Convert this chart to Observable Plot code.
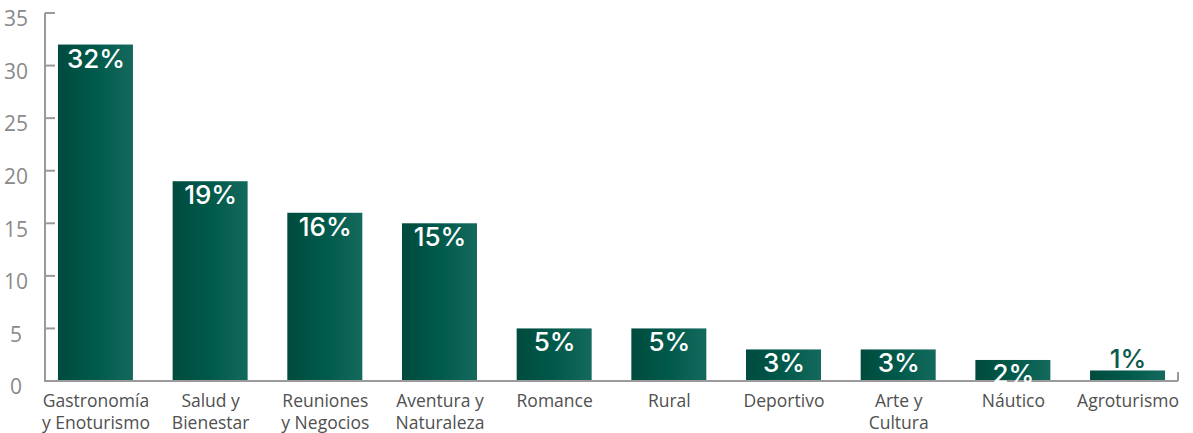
<!DOCTYPE html>
<html>
<head>
<meta charset="utf-8">
<script src="https://cdn.jsdelivr.net/npm/d3@7"></script>
<script src="https://cdn.jsdelivr.net/npm/@observablehq/plot@0.6"></script>
<style>
  html, body { margin: 0; padding: 0; background: #fff; }
  #chart svg { display: block; }
</style>
</head>
<body>
<div id="chart"></div>
<script>
const categories = [
  "Gastronomía\ny Enoturismo",
  "Salud y\nBienestar",
  "Reuniones\ny Negocios",
  "Aventura y\nNaturaleza",
  "Romance",
  "Rural",
  "Deportivo",
  "Arte y\nCultura",
  "Náutico",
  "Agroturismo"
];
const values = [32, 19, 16, 15, 5, 5, 3, 3, 2, 1];
const yTicks = [0, 5, 10, 15, 20, 25, 30, 35];

const data = categories.map((c, i) => ({category: c, value: values[i]}));

const axisColor = "#9a9a9a";
const font = "Open Sans, Lato, sans-serif";
const labelFont = "Inter, Open Sans, sans-serif";

function axisLines(index, scales, vals, dims) {
  const g = d3.create("svg:g").attr("stroke", axisColor).attr("stroke-width", 2).attr("fill", "none");
  const x0 = dims.marginLeft;
  const x1 = dims.width - dims.marginRight;
  const yb = scales.y(0);
  const yt = scales.y(35);
  g.append("line").attr("x1", x0).attr("x2", x0).attr("y1", yt).attr("y2", yb);
  g.append("line").attr("x1", x0 - 1).attr("x2", x1).attr("y1", yb).attr("y2", yb);
  g.append("line").attr("x1", x1).attr("x2", x1).attr("y1", yb).attr("y2", yb - 9);
  for (const t of yTicks) {
    if (t === 0) continue;
    g.append("line").attr("x1", x0).attr("x2", x0 + 10).attr("y1", scales.y(t)).attr("y2", scales.y(t));
  }
  return g.node();
}

function gradientDefs() {
  const defs = d3.create("svg:defs");
  const lg = defs.append("linearGradient").attr("id", "barGrad")
    .attr("x1", "0").attr("x2", "1").attr("y1", "0").attr("y2", "0");
  lg.append("stop").attr("offset", "0%").attr("stop-color", "#004b3d");
  lg.append("stop").attr("offset", "50%").attr("stop-color", "#005a4b");
  lg.append("stop").attr("offset", "100%").attr("stop-color", "#14695d");
  return defs.node();
}

const chart = Plot.plot({
  width: 1193,
  height: 433,
  marginLeft: 45,
  marginRight: 15,
  marginTop: 13,
  marginBottom: 52,
  style: {fontFamily: font, background: "#fff"},
  x: {domain: categories, paddingInner: 0.346, paddingOuter: 0.113, round: false, label: null},
  y: {domain: [0, 35], label: null},
  marks: [
    gradientDefs,
    Plot.barY(data, {x: "category", y: "value", fill: "url(#barGrad)"}),
    axisLines,
    Plot.axisY({ticks: yTicks, tickSize: 0, textAnchor: "middle", dx: -20.5, dy: 6,
      fontSize: 21, fill: "#8a8a8a", label: null}),
    Plot.axisX({tickSize: 0, tickPadding: 9, fontSize: 17.5, lineHeight: 1.3,
      fill: "#505050", label: null}),
    Plot.text(data.filter(d => d.value >= 2), {
      x: "category", y: "value", text: d => d.value + "%",
      fill: "white", fontSize: 26, fontWeight: 500, fontFamily: labelFont, lineAnchor: "top", dy: 4
    }),
    Plot.text(data.filter(d => d.value < 2), {
      x: "category", y: "value", text: d => d.value + "%",
      fill: "#0b5a4c", fontSize: 26, fontWeight: 500, fontFamily: labelFont, lineAnchor: "bottom", dy: -3
    })
  ]
});
document.getElementById("chart").appendChild(chart);
</script>
</body>
</html>
